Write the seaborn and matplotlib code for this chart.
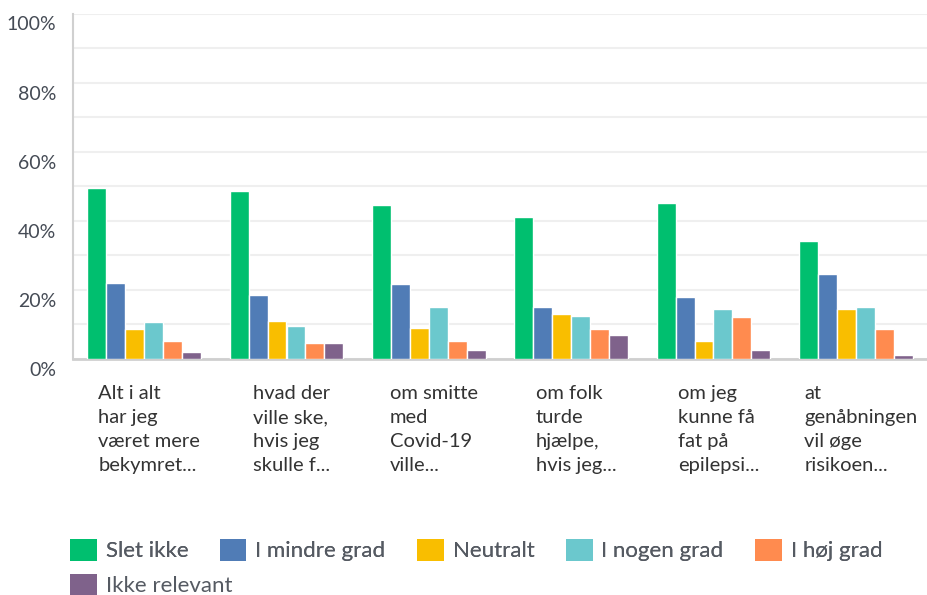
import pandas as pd
import seaborn as sns
import matplotlib.pyplot as plt
import matplotlib.transforms as mtransforms
from matplotlib.patches import Patch

categories = [
    "Alt i alt\nhar jeg\nværet mere\nbekymret...",
    "hvad der\nville ske,\nhvis jeg\nskulle f...",
    "om smitte\nmed\nCovid-19\nville...",
    "om folk\nturde\nhjælpe,\nhvis jeg...",
    "om jeg\nkunne få\nfat på\nepilepsi...",
    "at\ngenåbningen\nvil øge\nrisikoen...",
]
answers = ["Slet ikke", "I mindre grad", "Neutralt", "I nogen grad", "I høj grad", "Ikke relevant"]

slet_ikke = [49.6, 48.7, 44.6, 41.2, 45.2, 34.2]
i_mindre_grad = [22.0, 18.6, 21.7, 15.1, 18.0, 24.6]
neutralt = [8.7, 11.0, 9.0, 13.0, 5.2, 14.5]
i_nogen_grad = [10.7, 9.6, 15.1, 12.5, 14.5, 15.1]
i_hoj_grad = [5.2, 4.6, 5.2, 8.7, 12.2, 8.7]
ikke_relevant = [2.0, 4.6, 2.6, 7.0, 2.6, 1.2]

colors = ["#00BF6F", "#507CB6", "#F9BE00", "#6BC8CD", "#FF8B4F", "#7F628B"]

series = [slet_ikke, i_mindre_grad, neutralt, i_nogen_grad, i_hoj_grad, ikke_relevant]
rows = []
for ans, vals in zip(answers, series):
    for cat, v in zip(categories, vals):
        rows.append({"kategori": cat, "svar": ans, "pct": v})
df = pd.DataFrame(rows)

sns.set_style("white")
plt.rcParams["font.family"] = ["Lato", "DejaVu Sans"]

fig = plt.figure(figsize=(9.27, 5.95), dpi=100)
ax = fig.add_axes([73 / 927, 1 - 359 / 595, 1 - 73 / 927, (359 - 13.5) / 595])

sns.barplot(data=df, x="kategori", y="pct", hue="svar", order=categories,
            hue_order=answers, palette=colors, saturation=1, width=0.8, ax=ax,
            edgecolor="white", linewidth=1, legend=False, zorder=3)

ax.set_ylim(0, 100)
ax.set_xlim(-0.5, len(categories) - 0.5)
ax.set_yticks(range(0, 101, 10))
ax.set_yticklabels([f"{t}%" if t % 20 == 0 else "" for t in range(0, 101, 10)])
ax.grid(axis="y", color="#EFEFEF", linewidth=1.5, zorder=0)
ax.tick_params(axis="y", length=0, pad=12, labelsize=14, labelcolor="#454B55")
ax.tick_params(axis="x", length=0, pad=19, labelsize=14.5, labelcolor="#333333")
ax.set_xlabel("")
ax.set_ylabel("")

# y labels sit a little below their gridlines, x labels a little right of centre
y_shift = mtransforms.ScaledTranslation(0, -10 / 100, fig.dpi_scale_trans)
for lbl in ax.get_yticklabels():
    lbl.set_transform(lbl.get_transform() + y_shift)
x_shift = mtransforms.ScaledTranslation(5 / 100, 0, fig.dpi_scale_trans)
for lbl in ax.get_xticklabels():
    lbl.set_transform(lbl.get_transform() + x_shift)
    lbl.set_ha("center")
    lbl.set_va("top")
    lbl.set_multialignment("left")
    lbl.set_linespacing(1.5)

for s in ["top", "right"]:
    ax.spines[s].set_visible(False)
ax.spines["left"].set_color("#D0D0D0")
ax.spines["left"].set_linewidth(1.5)
ax.spines["bottom"].set_color("#CFCFCF")
ax.spines["bottom"].set_linewidth(2)

handles = [Patch(facecolor=c, edgecolor="none", label=a) for a, c in zip(answers, colors)]
leg_kw = dict(frameon=False, handlelength=1.2, handleheight=1.2, handletextpad=0.4,
              borderpad=0, borderaxespad=0, labelcolor="#555A62", fontsize=16)
leg1 = fig.legend(handles=handles[:5], loc="center left", bbox_to_anchor=(70 / 927, 1 - 550 / 595),
                  ncol=5, columnspacing=1.42, **leg_kw)
fig.add_artist(leg1)
fig.legend(handles=handles[5:], loc="center left", bbox_to_anchor=(70 / 927, 1 - 585 / 595),
           ncol=1, **leg_kw)

fig.savefig("out.png", dpi=100)
